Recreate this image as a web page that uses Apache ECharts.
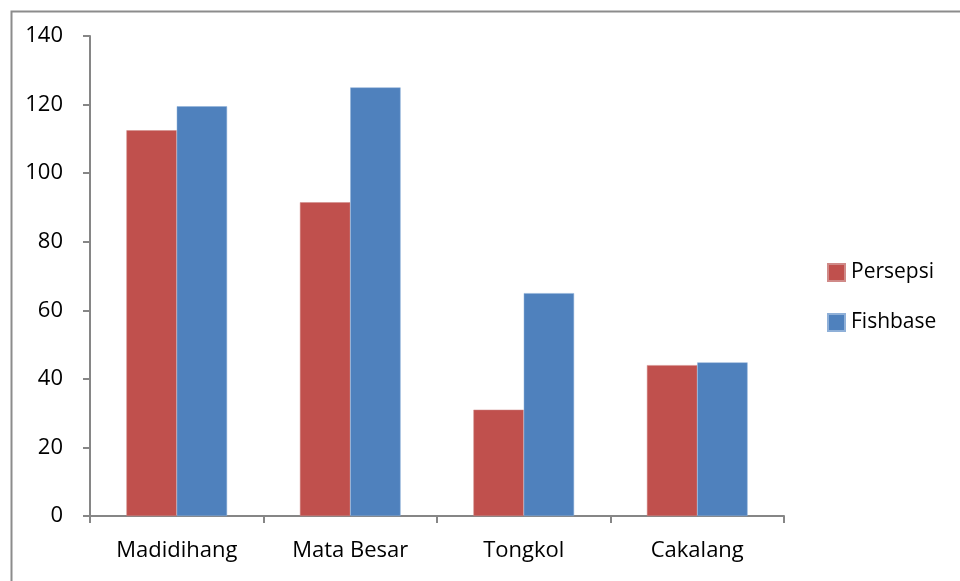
<!DOCTYPE html>
<html>
<head>
<meta charset="utf-8">
<script src="https://cdn.jsdelivr.net/npm/echarts@6/dist/echarts.min.js"></script>
<style>html,body{margin:0;padding:0;background:#fff}#c{width:960px;height:581px}</style>
</head>
<body>
<div id="c"></div>
<script>
var categories = ["Madidihang", "Mata Besar", "Tongkol", "Cakalang"];
var persepsi = [112.5, 91.5, 31, 44];
var fishbase = [119.5, 125, 65, 44.8];
var seriesNames = ["Persepsi", "Fishbase"];
var yTicks = {min: 0, max: 140, interval: 20};

var chart = echarts.init(document.getElementById('c'), null, {renderer: 'canvas'});
var font = '"Open Sans", sans-serif';
chart.setOption({
  animation: false,
  backgroundColor: '#fff',
  graphic: [{
    type: 'rect', left: 9, top: 9, shape: {width: 1000, height: 1000},
    style: {fill: 'none', stroke: '#8c8c8c', lineWidth: 2}, silent: true
  }],
  grid: {left: 90, right: 176, top: 36, bottom: 65, containLabel: false},
  legend: {
    orient: 'vertical', left: 827, top: 262, padding: 0,
    itemWidth: 17, itemHeight: 17, itemGap: 29,
    icon: 'rect',
    textStyle: {fontFamily: font, fontSize: 21, lineHeight: 17, color: '#000', padding: [0, 0, 0, 1]},
    data: seriesNames
  },
  xAxis: {
    type: 'category', data: categories,
    axisLine: {lineStyle: {color: '#868686', width: 2}},
    axisTick: {show: true, length: 7, lineStyle: {color: '#868686', width: 2}},
    axisLabel: {fontFamily: font, fontSize: 22, color: '#000', margin: 24}
  },
  yAxis: {
    type: 'value', min: yTicks.min, max: yTicks.max, interval: yTicks.interval,
    axisLine: {show: true, lineStyle: {color: '#868686', width: 2}},
    axisTick: {show: true, length: 7, lineStyle: {color: '#868686', width: 2}},
    splitLine: {show: false},
    axisLabel: {fontFamily: font, fontSize: 22, color: '#000', margin: 27}
  },
  series: [
    {name: seriesNames[0], type: 'bar', data: persepsi, barGap: '0%', barCategoryGap: '42%',
     itemStyle: {color: '#C0504D', borderColor: '#d08a88', borderWidth: 0.5}},
    {name: seriesNames[1], type: 'bar', data: fishbase, barGap: '0%', barCategoryGap: '42%',
     itemStyle: {color: '#4F81BD', borderColor: '#8fb0d8', borderWidth: 0.5}}
  ]
});
</script>
</body>
</html>
